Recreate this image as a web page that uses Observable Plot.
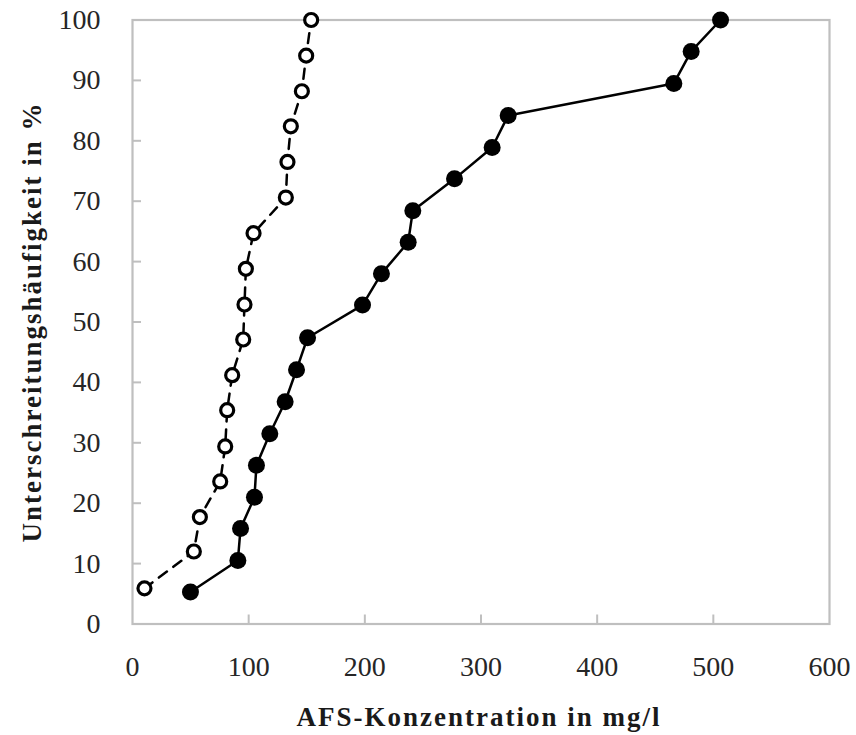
<!DOCTYPE html>
<html><head><meta charset="utf-8">
<script src="https://cdn.jsdelivr.net/npm/d3@7"></script>
<script src="https://cdn.jsdelivr.net/npm/@observablehq/plot@0.6"></script>
<style>body{margin:0;background:#fff}</style>
</head><body><div id="chart"></div>
<script>
// Filled markers, solid line
const filledX = [49.9, 90.7, 93.0, 105.0, 106.7, 118.2, 131.4, 141.2, 150.7, 198.0, 214.3, 237.3, 241.3, 277.2, 309.6, 323.4, 466.0, 480.9, 506.2];
const filledY = [5.3, 10.5, 15.8, 21.0, 26.3, 31.5, 36.8, 42.1, 47.4, 52.8, 58.0, 63.2, 68.4, 73.7, 78.9, 84.2, 89.5, 94.8, 100];
// Open markers, dashed line
const openX = [10.3, 52.8, 58.0, 75.5, 79.8, 81.5, 85.8, 95.3, 96.4, 97.6, 104.2, 132.0, 133.4, 136.3, 145.8, 149.5, 153.8];
const openY = [5.9, 12.0, 17.7, 23.6, 29.4, 35.4, 41.2, 47.1, 52.9, 58.8, 64.7, 70.6, 76.5, 82.4, 88.2, 94.1, 100];

const xTicks = [0, 100, 200, 300, 400, 500, 600];
const yTicks = [0, 10, 20, 30, 40, 50, 60, 70, 80, 90, 100];
const xTitle = "AFS-Konzentration in mg/l";
const yTitle = "Unterschreitungshäufigkeit in %";

const filled = filledX.map((x, i) => ({x, y: filledY[i]}));
const open = openX.map((x, i) => ({x, y: openY[i]}));

const gray = "#bfbfbf";
const plot = Plot.plot({
  width: 856, height: 735,
  marginTop: 19.5, marginRight: 27, marginBottom: 111.5, marginLeft: 132,
  x: {domain: [0, 600], label: null},
  y: {domain: [0, 100], label: null},
  style: {fontFamily: "'Liberation Serif', serif", fontSize: "28px", color: "#262626", background: "white", overflow: "visible"},
  marks: [
    Plot.axisX(xTicks, {tickSize: 0, tickPadding: 32, fontSize: 28, label: null}),
    Plot.axisY(yTicks, {tickSize: 0, tickPadding: 32, fontSize: 28, label: null}),
    Plot.axisX(xTicks.slice(1, -1), {text: null, tickSize: 9, dy: -9, stroke: gray, strokeWidth: 2, label: null}),
    Plot.axisY(yTicks.slice(1, -1), {text: null, tickSize: 9, dx: 9, stroke: gray, strokeWidth: 2, label: null}),
    Plot.frame({stroke: gray, strokeWidth: 2.2}),
    Plot.line(open, {x: "x", y: "y", stroke: "black", strokeWidth: 2.5, strokeDasharray: "10,8"}),
    Plot.dot(open, {x: "x", y: "y", r: 6.5, fill: "white", stroke: "black", strokeWidth: 3.2}),
    Plot.line(filled, {x: "x", y: "y", stroke: "black", strokeWidth: 2.5}),
    Plot.dot(filled, {x: "x", y: "y", r: 8.5, fill: "black", stroke: "none"}),
    Plot.text([xTitle], {text: d => d, frameAnchor: "bottom", textAnchor: "middle", dx: -2, dy: 93.5, lineAnchor: "middle", fontWeight: "bold", fontSize: 27, fill: "#1a1a1a"}),
    Plot.text([yTitle], {text: d => d, frameAnchor: "left", textAnchor: "middle", dx: -100, rotate: -90, lineAnchor: "middle", fontWeight: "bold", fontSize: 27, fill: "#1a1a1a"})
  ]
});
d3.select(plot).selectAll('g[aria-label="text"] text').style("letter-spacing", "2px");
document.getElementById("chart").appendChild(plot);
</script>
</body></html>
